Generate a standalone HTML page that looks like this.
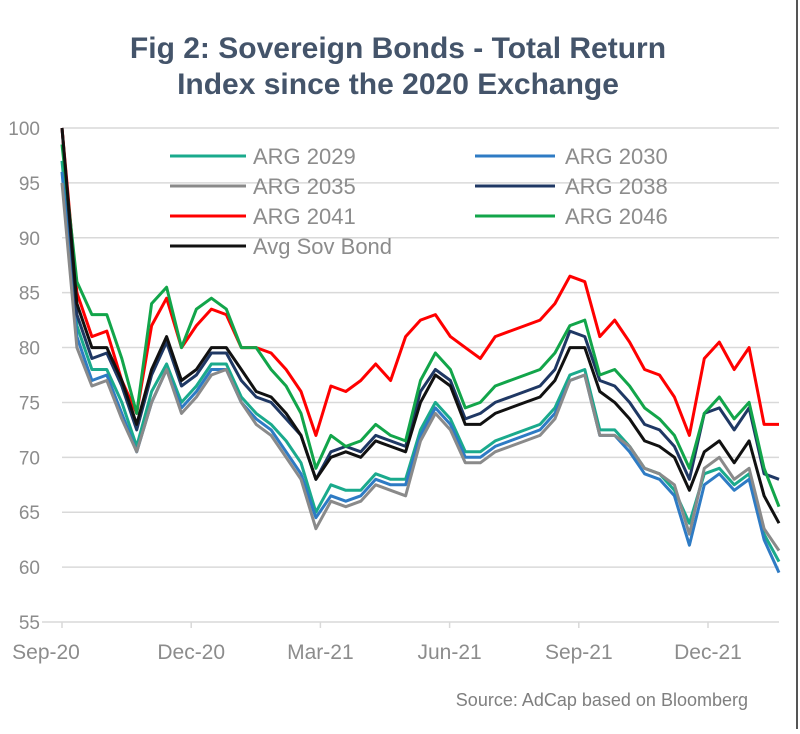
<!DOCTYPE html>
<html><head><meta charset="utf-8">
<style>
body{margin:0;background:#fff;}
svg text{font-family:"Liberation Sans",Arial,sans-serif;}
</style></head>
<body>
<svg width="800" height="729" viewBox="0 0 800 729" xmlns="http://www.w3.org/2000/svg">
<rect x="0" y="0" width="800" height="729" fill="#fff"/>
<line x1="797" y1="0" x2="797" y2="729" stroke="#555" stroke-width="2"/>
<text x="398" y="58" text-anchor="middle" font-size="30" font-weight="bold" fill="#44546a">Fig 2: Sovereign Bonds - Total Return</text>
<text x="398" y="94" text-anchor="middle" font-size="30" font-weight="bold" fill="#44546a">Index since the 2020 Exchange</text>
<g id="grid"></g>
<g id="xaxis"></g>
<g id="series"></g>
<g id="legend"></g>
<text x="748" y="706" text-anchor="end" font-size="18" fill="#7f7f7f">Source: AdCap based on Bloomberg</text>
</svg>
<script>
const yTicks=[100,95,90,85,80,75,70,65,60,55];
const xLabels=["Sep-20","Dec-20","Mar-21","Jun-21","Sep-21","Dec-21"];
const seriesNames=["ARG 2029","ARG 2030","ARG 2035","ARG 2038","ARG 2041","ARG 2046","Avg Sov Bond"];
const seriesColors=["#1aaa8c","#2e7bc4","#8a8a8a","#1f3864","#ff0000","#12a54a","#111111"];
const arg2029=[97,82,78,78,75,71,76,78.5,75,76.5,78.5,78.5,75.5,74,73,71.5,69.5,65,67.5,67,67,68.5,68,68,72.5,75,73.5,70.5,70.5,71.5,72,72.5,73,74.5,77.5,78,72.5,72.5,71,69,68.5,67,64,68.5,69,67.5,68.5,63,60.5];
const arg2030=[96,81,77,77.5,74,70.5,75,78,74.5,76,78,78,75,73.5,72.5,70.5,68.5,64.5,66.5,66,66.5,68,67.5,67.5,72,74.5,73,70,70,71,71.5,72,72.5,74,77,77.5,72,72,70.5,68.5,68,66.5,62,67.5,68.5,67,68,62.5,59.5];
const arg2035=[95,80,76.5,77,73.5,70.5,75,78,74,75.5,77.5,78,75,73,72,70,68,63.5,66,65.5,66,67.5,67,66.5,71.5,74,72.5,69.5,69.5,70.5,71,71.5,72,73.5,77,77.5,72,72,71,69,68.5,67.5,63,69,70,68,69,63.5,61.5];
const arg2038=[100,83,79,79.5,76.5,72.5,77.5,80.5,76.5,77.5,79.5,79.5,77,75.5,75,73.5,72,68,70.5,71,70.5,72,71.5,71,76,78,77,73.5,74,75,75.5,76,76.5,78,81.5,81,77,76.5,75,73,72.5,71,68,74,74.5,72.5,74.5,68.5,68];
const arg2041=[100,85,81,81.5,77,74,82,84.5,80,82,83.5,83,80,80,79.5,78,76,72,76.5,76,77,78.5,77,81,82.5,83,81,80,79,81,81.5,82,82.5,84,86.5,86,81,82.5,80.5,78,77.5,75.5,72,79,80.5,78,80,73,73];
const arg2046=[98.5,86,83,83,79,74,84,85.5,80,83.5,84.5,83.5,80,80,78,76.5,74,69,72,71,71.5,73,72,71.5,77,79.5,78,74.5,75,76.5,77,77.5,78,79.5,82,82.5,77.5,78,76.5,74.5,73.5,72,69,74,75.5,73.5,75,69,65.5];
const avgSov=[100,84,80,80,77,73,78,81,77,78,80,80,78,76,75.5,74,72,68,70,70.5,70,71.5,71,70.5,75,77.5,76.5,73,73,74,74.5,75,75.5,77,80,80,76,75,73.5,71.5,71,70,67,70.5,71.5,69.5,71.5,66.5,64];
const allSeries=[arg2029,arg2030,arg2035,arg2038,arg2041,arg2046,avgSov];
const seriesKeys=["arg-2029","arg-2030","arg-2035","arg-2038","arg-2041","arg-2046","avg-sov-bond"];

const NS="http://www.w3.org/2000/svg";
const X0=62,X1=779,Y100=128,Y55=622;
function yScale(v){return Y100+(100-v)*(Y55-Y100)/45;}
function xScale(i,n){return X0+i*(X1-X0)/(n-1);}
function xQuarter(q){return X0+q*129.2;}
function mk(tag,attrs,parent){const e=document.createElementNS(NS,tag);for(const k in attrs)e.setAttribute(k,attrs[k]);parent.appendChild(e);return e;}

const grid=document.getElementById('grid');
yTicks.forEach(v=>{
  const y=yScale(v);
  if(v>55){const l=mk('line',{x1:X0,x2:X1,y1:y,y2:y,stroke:'#d9d9d9','stroke-width':1.5},grid);
  
  }
  const t=mk('text',{x:40,y:y+7,'text-anchor':'end','font-size':19,fill:'#8c8c8c'},grid);
  t.textContent=v;
  
  
});
const xa=document.getElementById('xaxis');
const ax=mk('line',{x1:X0-20,x2:X1,y1:Y55,y2:Y55,stroke:'#d9d9d9','stroke-width':1.5},xa);


xLabels.forEach((s,q)=>{
  const x=xQuarter(q);
  const tk=mk('line',{x1:x,x2:x,y1:Y55,y2:Y55+6,stroke:'#d9d9d9','stroke-width':1.5},xa);
  
  
  const t=mk('text',{x:q===0?46:x,y:659,'text-anchor':'middle','font-size':21,fill:'#8c8c8c'},xa);
  t.textContent=s;
  
  
});
const sg=document.getElementById('series');
allSeries.forEach((arr,k)=>{
  const d=arr.map((v,i)=>(i?'L':'M')+xScale(i,arr.length).toFixed(1)+','+yScale(v).toFixed(1)).join('');
  const p=mk('path',{d:d,fill:'none',stroke:seriesColors[k],'stroke-width':3,'stroke-linejoin':'round'},sg);
  
  
});
const lg=document.getElementById('legend');
const legendPos=[[170,156],[475,156],[170,186],[475,186],[170,216],[475,216],[170,246]];
seriesNames.forEach((n,k)=>{
  const [x,y]=legendPos[k];
  const g=mk('g',{},lg);
  
  
  mk('line',{x1:x,x2:x+(k%2?80:76),y1:y,y2:y,stroke:seriesColors[k],'stroke-width':3},g);
  const t=mk('text',{x:x+(k%2?90:83),y:y+8,'font-size':22,fill:'#8c8c8c'},g);
  t.textContent=n;
});
</script>
</body></html>
